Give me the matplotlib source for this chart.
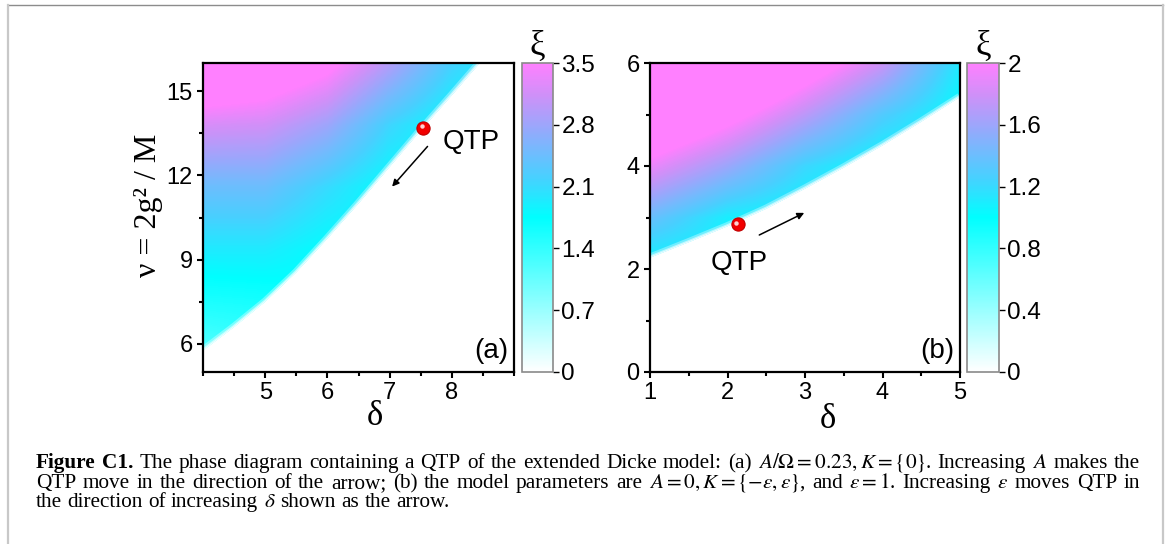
import matplotlib
matplotlib.use("Agg")
import matplotlib.pyplot as plt
import numpy as np
from matplotlib import transforms
from matplotlib.colors import LinearSegmentedColormap, Normalize
from matplotlib.lines import Line2D
from matplotlib.patches import Polygon
from matplotlib.ticker import FixedLocator, MultipleLocator

plt.rcParams["font.family"] = ["Liberation Sans", "DejaVu Sans"]
plt.rcParams["mathtext.fontset"] = "stix"
SERIF = ["Liberation Serif", "DejaVu Serif"]

W, H = 1167, 544

# ---- panel (a): A/Omega = 0.23, K = {0} ----
A_DELTA = [4, 5, 6, 7, 8, 9]
A_NU = [5.0, 7.2, 9.4, 11.6, 13.8, 16.0]
A_XI = [
    [1.00, 1.30, 1.75, 1.75, 1.75, 1.75],
    [1.50, 1.55, 1.75, 1.75, 1.75, 1.75],
    [1.95, 1.95, 1.75, 1.75, 1.75, 1.75],
    [2.45, 2.45, 2.10, 1.75, 1.75, 1.75],
    [3.20, 3.15, 2.80, 2.15, 1.75, 1.75],
    [4.20, 4.00, 3.65, 2.95, 2.20, 1.75],
]
A_EDGE_DELTA = [4.0, 4.5, 5.0, 5.5, 6.0, 6.5, 7.0, 7.5, 8.0, 8.45]
A_EDGE_NU = [5.76, 6.6, 7.5, 8.55, 9.75, 11.0, 12.3, 13.6, 14.85, 16.0]
A_QTP = [7.54, 13.7]
A_ARROW = [[7.61, 13.03], [7.04, 11.6]]
A_XTICKS = [5, 6, 7, 8]
A_YTICKS = [6, 9, 12, 15]
A_CTICKS = [0, 0.7, 1.4, 2.1, 2.8, 3.5]

# ---- panel (b): A = 0, K = {-eps, eps}, eps = 1 ----
B_DELTA = [1, 2, 3, 4, 5]
B_NU = [0, 1, 2, 3, 4, 5, 6]
B_XI = [
    [1.00, 1.00, 1.00, 1.00, 1.00],
    [1.00, 1.00, 1.00, 1.00, 1.00],
    [1.00, 1.00, 1.00, 1.00, 1.00],
    [1.39, 1.09, 1.00, 1.00, 1.00],
    [1.92, 1.59, 1.22, 1.00, 1.00],
    [2.45, 2.12, 1.72, 1.30, 1.00],
    [2.95, 2.65, 2.22, 1.78, 1.12],
]
B_EDGE_DELTA = [1.0, 1.5, 2.0, 2.5, 3.0, 3.5, 4.0, 4.5, 5.0]
B_EDGE_NU = [2.22, 2.52, 2.83, 3.17, 3.56, 3.97, 4.4, 4.86, 5.34]
B_QTP = [2.13, 2.87]
B_ARROW = [[2.41, 2.66], [2.99, 3.09]]
B_XTICKS = [1, 2, 3, 4, 5]
B_YTICKS = [0, 2, 4, 6]
B_CTICKS = [0, 0.4, 0.8, 1.2, 1.6, 2.0]

CAPTION = [
    "Figure C1. The phase diagram containing a QTP of the extended Dicke "
    r"model: (a) $A/\Omega=0.23,K=\{0\}$. Increasing $A$ makes the",
    "QTP move in the direction of the arrow; (b) the model parameters are "
    r"$A=0,K=\{-\epsilon,\epsilon\}$, and $\epsilon=1$. Increasing "
    r"$\epsilon$ moves QTP in",
    r"the direction of increasing $\delta$ shown as the arrow.",
]

CMAP = LinearSegmentedColormap.from_list(
    "xi",
    [(0.0, "#ffffff"), (0.5, "#00ffff"), (0.63, "#48d0ff"),
     (0.79, "#98a8fc"), (0.9, "#d090f8"), (1.0, "#ff80ff")],
)


def draw_panel(fig, ax, cax, delta, nu, xi, edge_d, edge_nu, cticks,
               xlim, ylim, xticks, yticks, qtp, arrow, qtp_xy, qtp_ha, tag):
    dx = delta[1] - delta[0]
    dy = nu[1] - nu[0]
    extent = (delta[0] - dx / 2, delta[-1] + dx / 2,
              nu[0] - dy / 2, nu[-1] + dy / 2)
    im = ax.imshow(np.array(xi), origin="lower", extent=extent, aspect="auto",
                   cmap=CMAP, norm=Normalize(0, cticks[-1]),
                   interpolation="bilinear", interpolation_stage="data")

    # keep only the region above the phase boundary
    verts = ([(xlim[0] - 1, edge_nu[0])] + list(zip(edge_d, edge_nu))
             + [(xlim[1] + 1, edge_nu[-1]), (xlim[1] + 1, ylim[1] + 1),
                (xlim[0] - 1, ylim[1] + 1)])
    region = Polygon(verts, closed=True, transform=ax.transData,
                     facecolor="none", edgecolor="none")
    im.set_clip_path(region)
    for lw, alpha in ((6, 0.35), (3, 0.55), (1.2, 0.8)):
        edge, = ax.plot(edge_d, edge_nu, color="white", lw=lw, alpha=alpha,
                        solid_capstyle="butt")
        edge.set_clip_path(region)

    ax.set_xlim(*xlim)
    ax.set_ylim(*ylim)
    ax.xaxis.set_major_locator(FixedLocator(xticks))
    ax.xaxis.set_minor_locator(MultipleLocator((xticks[1] - xticks[0]) / 2))
    ax.yaxis.set_major_locator(FixedLocator(yticks))
    ax.yaxis.set_minor_locator(MultipleLocator((yticks[1] - yticks[0]) / 2))
    ax.tick_params(which="both", direction="out", top=False, right=False,
                   width=1.5, labelsize=17)
    ax.tick_params(which="major", length=4.5, pad=3)
    ax.tick_params(which="minor", length=3)
    for sp in ax.spines.values():
        sp.set_linewidth(1.6)

    # QTP marker: red ball with a small highlight
    ax.plot(*qtp, "o", ms=9.5, color="#f20000", mec="#c00000", mew=0.8)
    glint = transforms.offset_copy(ax.transData, fig=fig, x=-1.2, y=1.2,
                                   units="points")
    ax.plot(*qtp, "o", ms=3.2, color="#ffd0d0", mec="none", transform=glint)
    ax.annotate("", xy=arrow[1], xytext=arrow[0],
                arrowprops=dict(arrowstyle="-|>", color="black", lw=1.1,
                                mutation_scale=10, shrinkA=0, shrinkB=0))
    ax.text(*qtp_xy, "QTP", fontsize=20, ha=qtp_ha, va="center")
    ax.text(0.982, 0.025, tag, transform=ax.transAxes, fontsize=20,
            ha="right", va="bottom")
    ax.set_xlabel("δ", family=SERIF, fontsize=25)

    cb = fig.colorbar(im, cax=cax)
    cb.set_ticks(cticks, labels=[f"{t:g}" for t in cticks])
    cb.outline.set_edgecolor("#8a8a8a")
    cb.outline.set_linewidth(1.2)
    cax.tick_params(direction="out", length=4, width=1, labelsize=17.5, pad=2)
    cax.set_title("ξ", family=SERIF, fontsize=25, pad=0)
    return im


def caption_line(fig, line, y, x0, x1, size, justify, n_bold=0):
    """Place a caption line word by word, spreading words to fill x0..x1."""
    words = line.split(" ")
    texts = [fig.text(x0 / W, y, w, family=SERIF, fontsize=size,
                      va="baseline", weight="bold" if i < n_bold else "normal")
             for i, w in enumerate(words)]
    renderer = fig.canvas.get_renderer()
    widths = [t.get_window_extent(renderer).width for t in texts]
    if justify:
        gap = (x1 - x0 - sum(widths)) / (len(words) - 1)
    else:
        gap = size * 100 / 72 * 0.25
    x = x0
    for t, w in zip(texts, widths):
        t.set_x(x / W)
        x += w + gap


fig = plt.figure(figsize=(W / 100, H / 100), dpi=100)

ax_a = fig.add_axes([203 / W, 1 - 372 / H, 311 / W, 309 / H])
cax_a = fig.add_axes([522 / W, 1 - 372 / H, 31 / W, 309 / H])
ax_b = fig.add_axes([650 / W, 1 - 372 / H, 310 / W, 309 / H])
cax_b = fig.add_axes([967 / W, 1 - 372 / H, 32 / W, 309 / H])

draw_panel(fig, ax_a, cax_a, A_DELTA, A_NU, A_XI, A_EDGE_DELTA, A_EDGE_NU,
           A_CTICKS, (4, 9), (5, 16), A_XTICKS, A_YTICKS, A_QTP, A_ARROW,
           (7.86, 13.2), "left", "(a)")
draw_panel(fig, ax_b, cax_b, B_DELTA, B_NU, B_XI, B_EDGE_DELTA, B_EDGE_NU,
           B_CTICKS, (1, 5), (0, 6), B_XTICKS, B_YTICKS, B_QTP, B_ARROW,
           (2.15, 2.12), "center", "(b)")

ax_a.set_ylabel("ν = 2g² / M", family=SERIF, fontsize=23)
ax_a.yaxis.set_label_coords(-0.13, 0.54)
ax_a.xaxis.set_label_coords(0.553, -0.09)
ax_b.xaxis.set_label_coords(0.574, -0.1)

# caption, fully justified except for the last line
for i, (line, base) in enumerate(zip(CAPTION, (468, 488, 507))):
    caption_line(fig, line, 1 - base / H, 36, 1140, 15.3,
                 justify=i < len(CAPTION) - 1, n_bold=2 if i == 0 else 0)

# page frame
fig.add_artist(Line2D([7.5 / W, 1163 / W], [1 - 4.5 / H] * 2,
                      color="#8c8c8c", lw=1))
fig.add_artist(Line2D([8 / W] * 2, [0, 1 - 4.5 / H], color="#c8c8c8", lw=1.6))
fig.add_artist(Line2D([1163 / W] * 2, [0, 1 - 4.5 / H], color="#c8c8c8",
                      lw=1.6))

fig.savefig("out.png", dpi=100)
